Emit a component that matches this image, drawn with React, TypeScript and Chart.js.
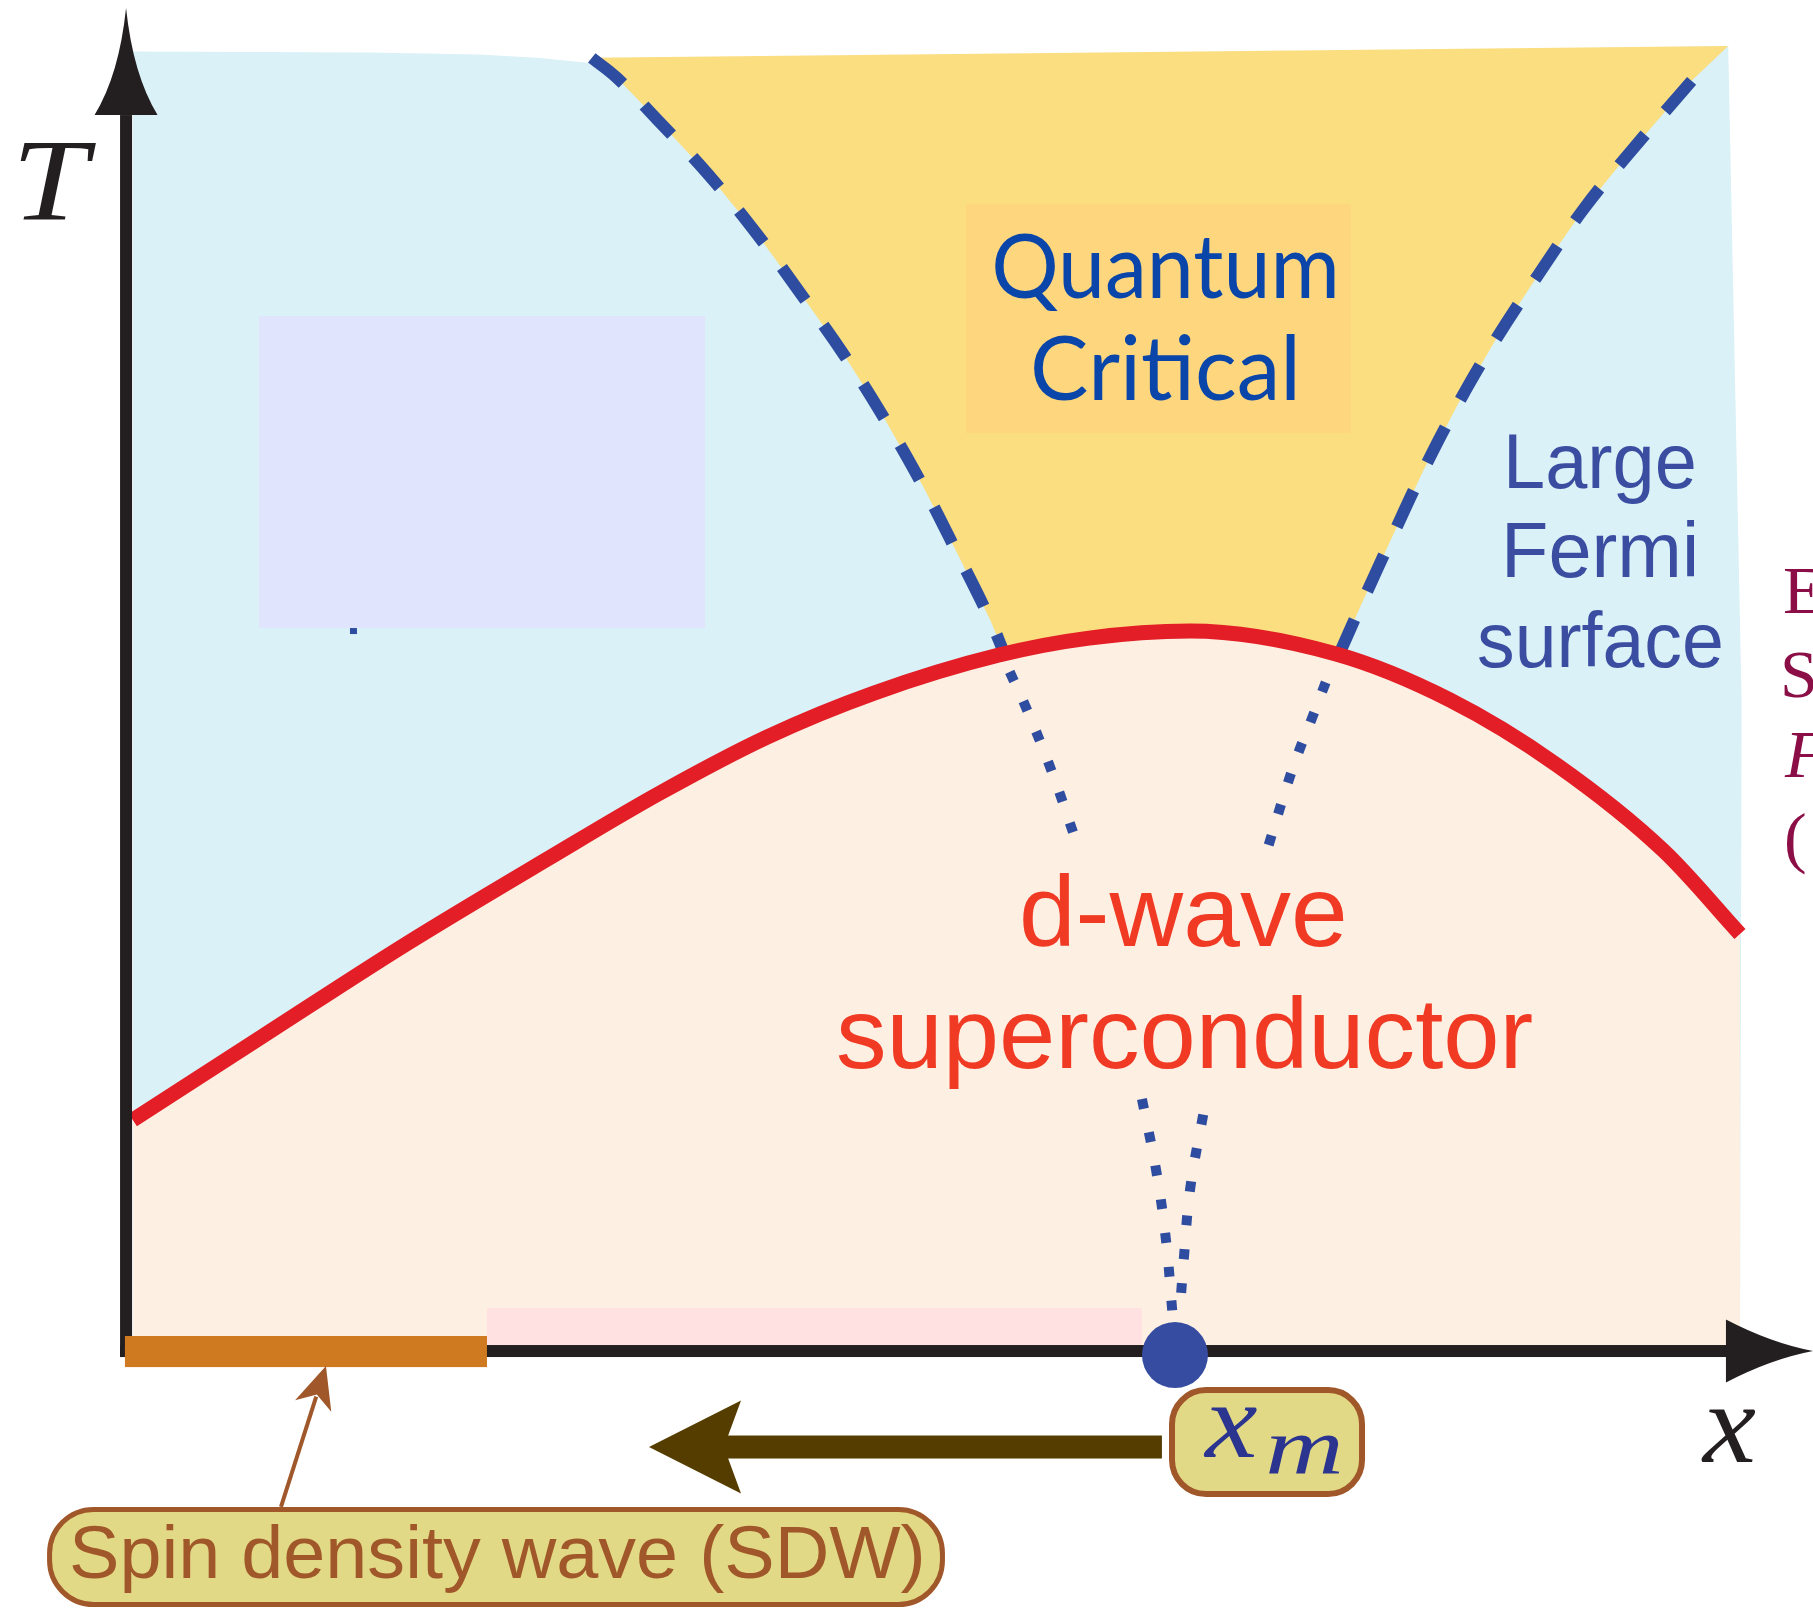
import { useEffect, useRef } from 'react';
import { Chart, registerables } from 'chart.js';

Chart.register(...registerables);

// ---- data (x: doping in % of axis length, T: temperature in % of axis height) ----
const X_MIN = -7.94;
const X_MAX = 104.53;
const T_MIN = -19.83;
const T_MAX = 103.45;

// superconducting dome Tc(x)
const TC_X = [0.3, 8.37, 17.25, 26.12, 33.0, 39.64, 46.28, 54.03, 59.62, 65.88, 74.94, 82.01, 88.65, 95.29, 100.0];
const TC_T = [17.69, 24.12, 31.16, 37.75, 42.73, 47.01, 50.38, 53.29, 54.59, 55.13, 53.37, 49.85, 44.87, 38.28, 31.93];

// crossover lines bounding the quantum critical fan (above Tc)
const QC_LEFT_X = [28.77, 30.32, 32.8, 36.0, 39.0, 41.79, 44.48, 46.96, 49.34, 51.41, 53.47, 54.4];
const QC_LEFT_T = [99.02, 97.5, 94.33, 90.09, 85.55, 80.86, 76.16, 71.32, 66.17, 61.17, 56.03, 53.29];
const QC_RIGHT_X = [97.0, 93.07, 90.28, 87.49, 84.91, 82.53, 80.35, 78.39, 76.43, 75.19, 75.12];
const QC_RIGHT_T = [97.26, 91.63, 87.41, 82.41, 77.57, 72.57, 67.41, 62.25, 56.95, 53.51, 53.29];

// continuation of the crossovers inside the superconductor
const SUB_LEFT_X = [54.7, 55.7, 57.3, 58.8];
const SUB_LEFT_T = [52.0, 49.3, 44.4, 39.1];
const SUB_RIGHT_X = [74.3, 73.4, 72.6, 71.9, 70.7];
const SUB_RIGHT_T = [51.2, 48.3, 45.8, 43.3, 38.5];

// lines converging on x_m
const XM_LEFT_X = [62.9, 63.8, 64.4, 64.8];
const XM_LEFT_T = [19.3, 13.7, 8.4, 2.8];
const XM_RIGHT_X = [66.7, 65.9, 65.5, 65.3];
const XM_RIGHT_T = [18.1, 12.5, 7.1, 3.9];

// normal-state region (light blue)
const NORMAL_X = [0.3, 15.0, 21.8, 25.56, 28.66, 99.27, 100.1, 100.0, 0.3];
const NORMAL_T = [99.5, 99.43, 99.27, 99.0, 98.62, 99.92, 49.8, 0.0, 0.0];

// quantum critical region corners at the top
const QC_TOP_X = [28.77, 99.27];
const QC_TOP_T = [99.02, 99.92];

const pts = (xs: number[], ts: number[]) => xs.map((x, i) => ({ x, y: ts[i] }));

const BLUE_BG = '#DAF1F8';
const YELLOW = '#FBDE80';
const PEACH = '#FDEFE2';
const RED = '#E31E26';
const DASH_BLUE = '#2F4DA0';

function label(
  ctx: CanvasRenderingContext2D,
  s: string,
  left: number,
  base: number,
  font: string,
  color: string,
  width?: number
) {
  ctx.save();
  ctx.font = font;
  ctx.fillStyle = color;
  ctx.textAlign = 'left';
  ctx.textBaseline = 'alphabetic';
  const m = ctx.measureText(s);
  const ink = m.actualBoundingBoxRight + m.actualBoundingBoxLeft;
  const sx = width ? width / ink : 1;
  ctx.translate(left + m.actualBoundingBoxLeft * sx, base);
  ctx.scale(sx, 1);
  ctx.fillText(s, 0, 0);
  ctx.restore();
}

const annotate = {
  id: 'annotate',
  afterDatasetsDraw(chart: any) {
    const { ctx } = chart;
    const xs = chart.scales.x;
    const ys = chart.scales.y;
    const X = (v: number) => xs.getPixelForValue(v);
    const Y = (v: number) => ys.getPixelForValue(v);
    ctx.save();

    // lavender patch
    ctx.fillStyle = '#E0E4FC';
    ctx.fillRect(X(8.13), Y(79.25), X(35.79) - X(8.13), Y(55.36) - Y(79.25));
    ctx.fillStyle = DASH_BLUE;
    ctx.fillRect(X(13.77), Y(55.36), 7, 6);

    // quantum critical label patch
    ctx.fillStyle = '#FDD67E';
    ctx.fillRect(X(51.99), Y(87.83), X(75.87) - X(51.99), Y(70.29) - Y(87.83));

    // pink strip
    ctx.fillStyle = '#FFE1E1';
    ctx.fillRect(X(22.27), Y(3.29), X(62.9) - X(22.27), Y(0.23) - Y(3.29));

    // axes
    const ax = X(-0.12);
    const ay = Y(0);
    ctx.fillStyle = '#231F20';
    ctx.fillRect(ax - 6, Y(94.64), 12, ay + 6 - Y(94.64));
    ctx.fillRect(ax - 6, ay - 6, X(99.13) + 2 - (ax - 6), 12);
    // y arrowhead
    const ty = Y(102.83);
    const by = Y(94.64);
    ctx.beginPath();
    ctx.moveTo(ax, ty);
    ctx.quadraticCurveTo(ax - 7, by - 40, ax - 31.5, by);
    ctx.lineTo(ax + 31.5, by);
    ctx.quadraticCurveTo(ax + 7, by - 40, ax, ty);
    ctx.closePath();
    ctx.fill();
    // x arrowhead
    const tx = X(104.53);
    const bx = X(99.13);
    ctx.beginPath();
    ctx.moveTo(tx, ay);
    ctx.quadraticCurveTo(bx + 45, ay - 8, bx, ay - 31.5);
    ctx.lineTo(bx, ay + 31.5);
    ctx.quadraticCurveTo(bx + 45, ay + 8, tx, ay);
    ctx.closePath();
    ctx.fill();

    // SDW bar
    ctx.fillStyle = '#CF7A20';
    ctx.fillRect(X(-0.19), Y(1.15), X(22.27) - X(-0.19), Y(-1.23) - Y(1.15));

    // critical point
    ctx.fillStyle = '#354CA0';
    ctx.beginPath();
    ctx.arc(X(64.95), Y(-0.31), 33, 0, Math.PI * 2);
    ctx.fill();

    // big arrow toward lower doping
    const ac = Y(-7.35);
    ctx.fillStyle = '#553D00';
    ctx.fillRect(X(36.97), ac - 11.5, X(64.14) - X(36.97), 23);
    ctx.beginPath();
    ctx.moveTo(X(32.32), ac);
    ctx.lineTo(X(38.03), ac - 46.5);
    ctx.lineTo(X(36.97), ac);
    ctx.lineTo(X(38.03), ac + 46.5);
    ctx.closePath();
    ctx.fill();

    // x_m box
    ctx.fillStyle = '#E2D986';
    ctx.strokeStyle = '#A0572A';
    ctx.lineWidth = 6;
    ctx.beginPath();
    ctx.roundRect(X(64.58) + 3, Y(-2.76) + 3, X(76.74) - X(64.58) - 6, Y(-11.18) - Y(-2.76) - 6, 34);
    ctx.fill();
    ctx.stroke();
    label(ctx, 'x', X(66.69), Y(-8.12), 'italic 109px "Liberation Serif"', '#2B3590', 54);
    label(ctx, 'm', X(70.72), Y(-9.34), 'italic 80px "Liberation Serif"', '#2B3590', 72);

    // SDW box
    ctx.lineWidth = 5;
    ctx.beginPath();
    ctx.roundRect(X(-5.02) + 2.5, Y(-11.94) + 2.5, X(50.68) - X(-5.02) - 5, Y(-19.6) - Y(-11.94) - 5, 44);
    ctx.fill();
    ctx.stroke();
    label(ctx, 'Spin density wave (SDW)', X(-3.47), Y(-17.38), '74px "Liberation Sans"', '#A0572A', 850);

    // thin pointer arrow
    const sx0 = X(9.49), sy0 = Y(-11.94), sx1 = X(12.28), sy1 = Y(-1.15);
    const L = Math.hypot(sx1 - sx0, sy1 - sy0);
    const ux = (sx1 - sx0) / L, uy = (sy1 - sy0) / L;
    const qx = -uy, qy = ux;
    ctx.strokeStyle = '#A0572A';
    ctx.lineWidth = 4;
    ctx.beginPath();
    ctx.moveTo(sx0, sy0);
    ctx.lineTo(sx1 - 32 * ux, sy1 - 32 * uy);
    ctx.stroke();
    ctx.fillStyle = '#A0572A';
    ctx.beginPath();
    ctx.moveTo(sx1, sy1);
    ctx.lineTo(sx1 - 42 * ux + 19 * qx, sy1 - 42 * uy + 19 * qy);
    ctx.lineTo(sx1 - 30 * ux, sy1 - 30 * uy);
    ctx.lineTo(sx1 - 42 * ux - 19 * qx, sy1 - 42 * uy - 19 * qy);
    ctx.closePath();
    ctx.fill();

    // labels
    label(ctx, 'T', X(-6.7), Y(86.6), 'italic 117px "Liberation Serif"', '#231F20', 76);
    label(ctx, 'x', X(97.58), Y(-8.5), 'italic 115px "Liberation Serif"', '#231F20', 55);
    label(ctx, 'Quantum', X(53.78), Y(80.63), '89px Lato', '#0A46AA', 340);
    label(ctx, 'Critical', X(56.2), Y(72.82), '89px Lato', '#0A46AA', 261);
    label(ctx, 'Large', X(85.67), Y(66.08), '77px "Liberation Sans"', '#3A4DA0', 185);
    label(ctx, 'Fermi', X(85.55), Y(59.26), '77px "Liberation Sans"', '#3A4DA0', 187);
    label(ctx, 'surface', X(83.81), Y(52.37), '77px "Liberation Sans"', '#3A4DA0', 242);
    label(ctx, 'd-wave', X(55.52), Y(31.01), '100px "Liberation Sans"', '#F03A24', 321);
    label(ctx, 'superconductor', X(44.04), Y(21.67), '100px "Liberation Sans"', '#F03A24', 694);

    // clipped side text
    const mar = '#8B0E47';
    label(ctx, 'E', X(102.73), Y(56.51), '68px "Liberation Serif"', mar);
    label(ctx, 'S', X(102.73), Y(50.08), '68px "Liberation Serif"', mar);
    label(ctx, 'F', X(102.73), Y(43.95), 'italic 68px "Liberation Serif"', mar);
    label(ctx, '(', X(102.85), Y(37.6), '68px "Liberation Serif"', mar);

    ctx.restore();
  },
};

export default function App() {
  const ref = useRef<HTMLCanvasElement>(null);
  useEffect(() => {
    document.body.style.margin = '0';
    document.body.style.overflow = 'hidden';
    const canvas = ref.current!;
    const none = 'rgba(0,0,0,0)';
    const shape = (data: any, color: string, order: number) => ({
      data,
      fill: 'shape',
      backgroundColor: color,
      borderColor: none,
      borderWidth: 0,
      pointRadius: 0,
      tension: 0,
      order,
    });
    const dashed = (data: any, dash: number[], w: number, order: number) => ({
      data,
      fill: false,
      borderColor: DASH_BLUE,
      borderWidth: w,
      borderDash: dash,
      borderCapStyle: 'butt',
      pointRadius: 0,
      tension: 0.4,
      order,
    });
    const yellowPoly = [
      ...pts(QC_TOP_X, QC_TOP_T),
      ...pts(QC_RIGHT_X, QC_RIGHT_T),
      ...pts(QC_LEFT_X, QC_LEFT_T).reverse(),
    ];
    const chart = new Chart(canvas, {
      type: 'line',
      data: {
        datasets: [
          shape(pts(NORMAL_X, NORMAL_T), BLUE_BG, 10),
          shape(yellowPoly, YELLOW, 9),
          {
            data: pts(TC_X, TC_T),
            fill: 'origin',
            backgroundColor: PEACH,
            borderColor: none,
            borderWidth: 0,
            pointRadius: 0,
            cubicInterpolationMode: 'monotone',
            order: 8,
          },
          dashed(pts(QC_LEFT_X, QC_LEFT_T), [40, 31], 12, 7),
          dashed(pts(QC_RIGHT_X, QC_RIGHT_T), [40, 31], 12, 7),
          dashed(pts(SUB_LEFT_X, SUB_LEFT_T), [10, 22.5], 10, 7),
          dashed(pts(SUB_RIGHT_X, SUB_RIGHT_T), [10, 22.5], 10, 7),
          dashed(pts(XM_LEFT_X, XM_LEFT_T), [10, 24], 10, 7),
          dashed(pts(XM_RIGHT_X, XM_RIGHT_T), [10, 24], 10, 7),
          {
            data: pts(TC_X, TC_T),
            fill: false,
            borderColor: RED,
            borderWidth: 15,
            borderCapStyle: 'butt',
            pointRadius: 0,
            cubicInterpolationMode: 'monotone',
            order: 1,
          },
        ] as any,
      },
      options: {
        responsive: false,
        animation: false,
        devicePixelRatio: 1,
        events: [],
        layout: { padding: 0 },
        plugins: { legend: { display: false }, tooltip: { enabled: false } },
        scales: {
          x: { type: 'linear', min: X_MIN, max: X_MAX, display: false },
          y: { type: 'linear', min: T_MIN, max: T_MAX, display: false },
        },
      },
      plugins: [annotate],
    });
    return () => chart.destroy();
  }, []);
  return (
    <canvas
      ref={ref}
      width={1813}
      height={1610}
      style={{ display: 'block', width: '1813px', height: '1610px' }}
    />
  );
}
